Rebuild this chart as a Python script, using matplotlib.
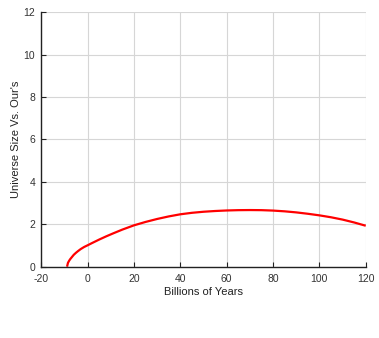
"""Universe size relative to ours versus time."""
import matplotlib
matplotlib.use("Agg")
import matplotlib.pyplot as plt

# values
years = [-8.9, -8.5, -8.0, -7.5, -6.9, -6.0, -5.0, -4.1, -3.0, -1.5, 0, 2, 5,
         8, 11, 15, 20, 25, 30, 35, 40, 45, 50, 55, 60, 65, 70, 75, 80,
         85, 90, 95, 100, 105, 110, 115, 120]
size = [0.0, 0.18, 0.28, 0.36, 0.44, 0.56, 0.66, 0.74, 0.83, 0.93, 1.01, 1.12, 1.28,
        1.43, 1.57, 1.75, 1.95, 2.11, 2.25, 2.37, 2.47, 2.54, 2.59, 2.625, 2.65, 2.665, 2.67, 2.665, 2.645,
        2.61, 2.56, 2.495, 2.42, 2.33, 2.22, 2.085, 1.93]

xticks = [-20, 0, 20, 40, 60, 80, 100, 120]
yticks = [0, 2, 4, 6, 8, 10, 12]

plt.rcParams['font.family'] = ['Liberation Sans', 'DejaVu Sans']
plt.rcParams['axes.unicode_minus'] = False

fig = plt.figure(figsize=(3.79, 3.38), dpi=100)
ax = fig.add_axes([0.109, 0.211, 0.856, 0.753])

ax.plot(years, size, color='red', linewidth=1.6, solid_capstyle='butt')

ax.set_xlim(-20, 120)
ax.set_ylim(0, 12)
ax.set_xticks(xticks)
ax.set_yticks(yticks)
ax.grid(True, color='#d6d6d6', linewidth=0.8)
ax.set_axisbelow(True)

for side in ['top', 'right']:
    ax.spines[side].set_visible(False)
for side in ['left', 'bottom']:
    ax.spines[side].set_color('#222222')
    ax.spines[side].set_linewidth(1.0)

# ticks point into the plot
ax.tick_params(direction='in', length=3.5, width=0.8, color='#222222',
               labelsize=7.5, labelcolor='#333333')
ax.tick_params(axis='y', pad=4.5)
ax.tick_params(axis='x', pad=5)

ax.set_xlabel('Billions of Years', fontsize=8, color='#222222', labelpad=2.5)
ax.set_ylabel("Universe Size Vs. Our's", fontsize=8, color='#222222', labelpad=1.5)

fig.savefig('out.png', dpi=100, facecolor='white')
